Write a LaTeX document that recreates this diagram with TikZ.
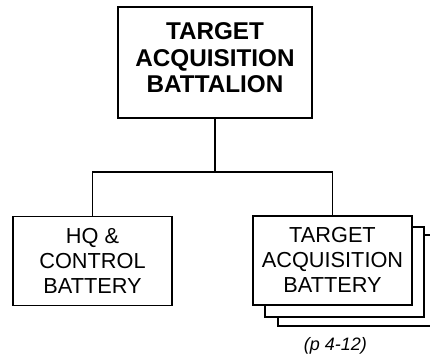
\documentclass[tikz,border=0pt]{standalone}
\usepackage{fontspec}
\setmainfont{Liberation Sans}
\begin{document}
\begin{tikzpicture}[x=0.75pt,y=-0.75pt,
  line width=1.2pt,
  box/.style={draw,rectangle,fill=white,inner sep=0pt,minimum width=159*0.75pt,minimum height=89*0.75pt},
  bigtxt/.style={align=center,inner sep=0pt,font=\fontsize{18.2}{20}\selectfont\bfseries},
  smalltxt/.style={align=center,inner sep=0pt,font=\fontsize{16.3}{18.75}\selectfont},
  note/.style={inner sep=0pt,font=\fontsize{13.5}{15}\selectfont\itshape}]
\useasboundingbox (0,0) rectangle (430,354);
\clip (0,0) rectangle (430,354);
% top box
\node[draw,rectangle,inner sep=0pt,minimum width=194*0.75pt,minimum height=111*0.75pt] (top) at (215,62.5) {};
\node[bigtxt] (toptxt) at (215,57.7) {TARGET\\ACQUISITION\\BATTALION};
% left box
\node[box] (hq) at (92.5,261) {};
\node[smalltxt] (hqtxt) at (92.5,260.8) {HQ \&\\CONTROL\\BATTERY};
% stacked boxes on the right
\node[box,minimum width=159*0.75pt,minimum height=91*0.75pt] (tab3) at (357.5,280.5) {};
\node[box,minimum width=159*0.75pt,minimum height=90*0.75pt] (tab2) at (344.5,272) {};
\node[box] (tab) at (332.5,260.5) {};
\node[smalltxt] (tabtxt) at (332.5,260.3) {TARGET\\ACQUISITION\\BATTERY};
% connectors
\coordinate (junc) at (215,172);
\draw (top.south) -- (junc);
\draw (junc) -| (hq.north);
\draw (junc) -| (tab.north);
% note
\node[note] (pg) at (335.5,345.5) {(p 4-12)};
\end{tikzpicture}
\end{document}
